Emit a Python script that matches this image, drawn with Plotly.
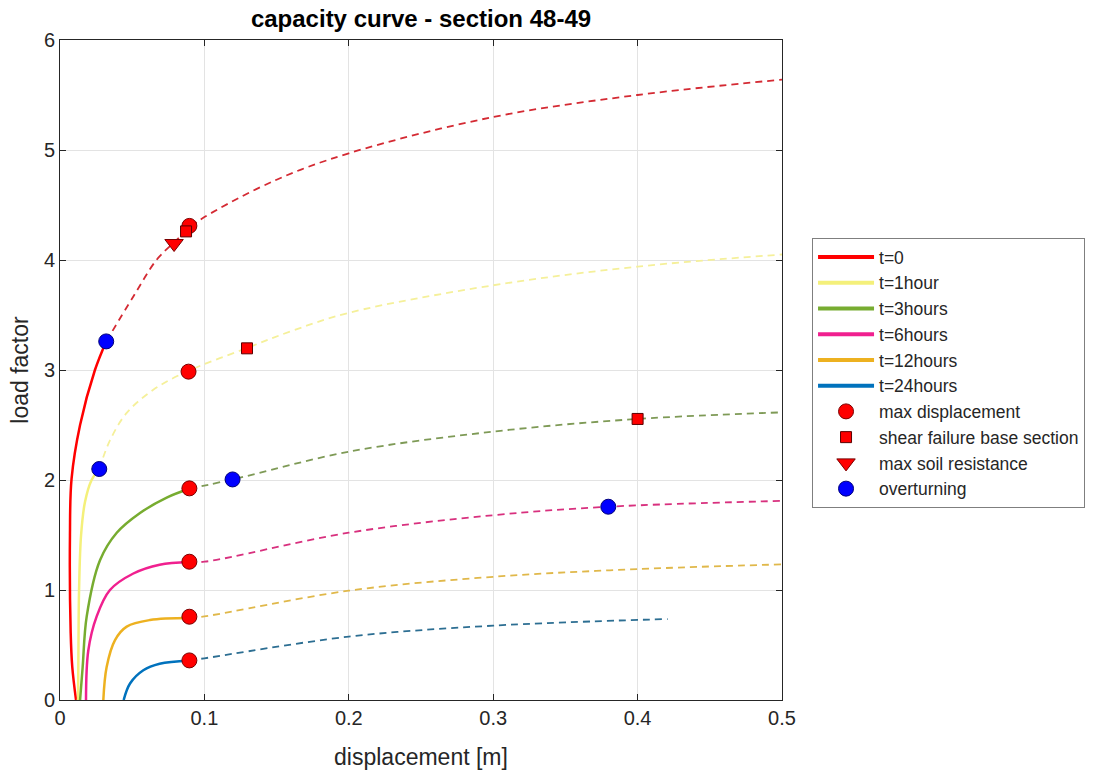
import plotly.graph_objects as go

# ---- data ----
series_names = ["t=0", "t=1hour", "t=3hours", "t=6hours", "t=12hours", "t=24hours"]

# solid (stable) branches
red_sx = [0.0111, 0.0085, 0.0074, 0.0069, 0.0080, 0.0139, 0.0242, 0.0320]
red_sy = [0.0, 0.30, 0.61, 1.5, 2.01, 2.5, 3.0, 3.26]
yel_sx = [0.0125, 0.0128, 0.0132, 0.0146, 0.0173, 0.0219, 0.0272]
yel_sy = [0.0, 0.5, 1.0, 1.5, 1.8, 2.0, 2.10]
grn_sx = [0.0139, 0.0157, 0.0185, 0.0277, 0.0393, 0.0554, 0.0739, 0.0896]
grn_sy = [0.0, 0.30, 0.76, 1.27, 1.52, 1.70, 1.84, 1.92]
pnk_sx = [0.0180, 0.0196, 0.0254, 0.0346, 0.0508, 0.0690, 0.0896]
pnk_sy = [0.0, 0.45, 0.76, 1.00, 1.15, 1.23, 1.255]
orn_sx = [0.0300, 0.0323, 0.0381, 0.0462, 0.0623, 0.0896]
orn_sy = [0.0, 0.30, 0.545, 0.667, 0.727, 0.745]
blu_sx = [0.0441, 0.0485, 0.0577, 0.0690, 0.0896]
blu_sy = [0.0, 0.15, 0.27, 0.33, 0.36]

# dashed (post-peak) branches
red_dx = [0.0320, 0.0509, 0.0668, 0.0790, 0.0896, 0.1000, 0.1500, 0.2000, 0.3000, 0.4000, 0.5000]
red_dy = [3.26, 3.67, 4.00, 4.16, 4.29, 4.39, 4.73, 4.97, 5.30, 5.50, 5.64]
yel_dx = [0.0272, 0.0346, 0.0462, 0.0646, 0.0877, 0.1295, 0.1616, 0.2000, 0.3000, 0.4000, 0.5000]
yel_dy = [2.10, 2.36, 2.61, 2.82, 2.985, 3.20, 3.36, 3.52, 3.77, 3.94, 4.05]
grn_dx = [0.0896, 0.1195, 0.2000, 0.3000, 0.4000, 0.5000]
grn_dy = [1.92, 2.005, 2.257, 2.44, 2.555, 2.615]
pnk_dx = [0.0896, 0.1000, 0.2000, 0.3000, 0.3797, 0.5000]
pnk_dy = [1.255, 1.257, 1.521, 1.68, 1.757, 1.81]
orn_dx = [0.0896, 0.1000, 0.2000, 0.3000, 0.4000, 0.5000]
orn_dy = [0.745, 0.76, 0.994, 1.12, 1.19, 1.233]
blu_dx = [0.0896, 0.1000, 0.2000, 0.3000, 0.4208]
blu_dy = [0.36, 0.379, 0.576, 0.676, 0.736]

# event markers
maxdisp_x = [0.0896, 0.0890, 0.0896, 0.0896, 0.0896, 0.0896]
maxdisp_y = [4.31, 2.985, 1.924, 1.257, 0.757, 0.36]
shear_x = [0.0873, 0.1295, 0.4000]
shear_y = [4.26, 3.197, 2.555]
soil_x = [0.0790]
soil_y = [4.15]
overturn_x = [0.0320, 0.0272, 0.1195, 0.3797]
overturn_y = [3.26, 2.10, 2.005, 1.757]

x_ticks = [0, 0.1, 0.2, 0.3, 0.4, 0.5]
x_ticklabels = ["0", "0.1", "0.2", "0.3", "0.4", "0.5"]
y_ticks = [0, 1, 2, 3, 4, 5, 6]

solid = [(red_sx, red_sy), (yel_sx, yel_sy), (grn_sx, grn_sy),
         (pnk_sx, pnk_sy), (orn_sx, orn_sy), (blu_sx, blu_sy)]
dashed = [(red_dx, red_dy), (yel_dx, yel_dy), (grn_dx, grn_dy),
          (pnk_dx, pnk_dy), (orn_dx, orn_dy), (blu_dx, blu_dy)]
solid_colors = ["#FF0000", "#F4F07A", "#77AC30", "#F0208F", "#EDB120", "#0072BD"]
dash_colors = ["#D42A33", "#F5F09A", "#7E9A56", "#D8307E", "#E0B84A", "#2C6E92"]

font = "Arial, Liberation Sans, sans-serif"
fig = go.Figure()

for (dx, dy), c in zip(dashed, dash_colors):
    fig.add_trace(go.Scatter(x=dx, y=dy, mode="lines", showlegend=False,
                             line=dict(color=c, width=1.8, dash="7px,5px", shape="spline", smoothing=1.0),
                             hoverinfo="skip"))
for (sx, sy), c in zip(solid, solid_colors):
    fig.add_trace(go.Scatter(x=sx, y=sy, mode="lines", showlegend=False,
                             line=dict(color=c, width=2.5, shape="spline", smoothing=1.0)))
# legend entries for the curves
for name, c in zip(series_names, solid_colors):
    fig.add_trace(go.Scatter(x=[None], y=[None], mode="lines", name=name,
                             line=dict(color=c, width=4)))

fig.add_trace(go.Scatter(x=maxdisp_x, y=maxdisp_y, mode="markers", name="max displacement",
                         marker=dict(symbol="circle", size=15, color="#FF0000",
                                     line=dict(color="#7A0000", width=1))))
fig.add_trace(go.Scatter(x=shear_x, y=shear_y, mode="markers", name="shear failure base section",
                         marker=dict(symbol="square", size=11, color="#FF0000",
                                     line=dict(color="#5A0000", width=1))))
fig.add_trace(go.Scatter(x=soil_x, y=soil_y, mode="markers", name="max soil resistance",
                         marker=dict(symbol="triangle-down", size=16, color="#FF0000",
                                     line=dict(color="#7A0000", width=1))))
fig.add_trace(go.Scatter(x=overturn_x, y=overturn_y, mode="markers", name="overturning",
                         marker=dict(symbol="circle", size=15, color="#0000FF",
                                     line=dict(color="#00007A", width=1))))

axis_common = dict(showline=True, linecolor="#262626", linewidth=1, mirror="allticks",
                   ticks="inside", ticklen=6, tickcolor="#262626", showgrid=True,
                   gridcolor="#E3E3E3", gridwidth=1, zeroline=False,
                   tickfont=dict(family=font, size=20, color="#262626"))

fig.update_layout(
    width=1107, height=771,
    paper_bgcolor="white", plot_bgcolor="white",
    margin=dict(l=60, r=325, t=40, b=71, autoexpand=False),
    title=dict(text="<b>capacity curve - section 48-49</b>", x=(60 + 782) / 2 / 1107, xanchor="center",
               y=1 - 19 / 771, yanchor="middle", font=dict(family=font, size=24, color="black")),
    xaxis=dict(range=[0, 0.5], tickvals=x_ticks, ticktext=x_ticklabels,
               title=dict(text="displacement [m]", font=dict(family=font, size=23, color="#262626"), standoff=20),
               **axis_common),
    yaxis=dict(range=[0, 6], tickvals=y_ticks,
               title=dict(text="load factor", font=dict(family=font, size=23, color="#262626"), standoff=8),
               **axis_common),
    legend=dict(x=1.0416, y=0.70, xanchor="left", yanchor="top",
                bordercolor="#7F7F7F", borderwidth=1, bgcolor="white",
                font=dict(family=font, size=17.5, color="#262626"),
                tracegroupgap=0, itemwidth=56),
    showlegend=True,
)

fig.write_html("out.html")
